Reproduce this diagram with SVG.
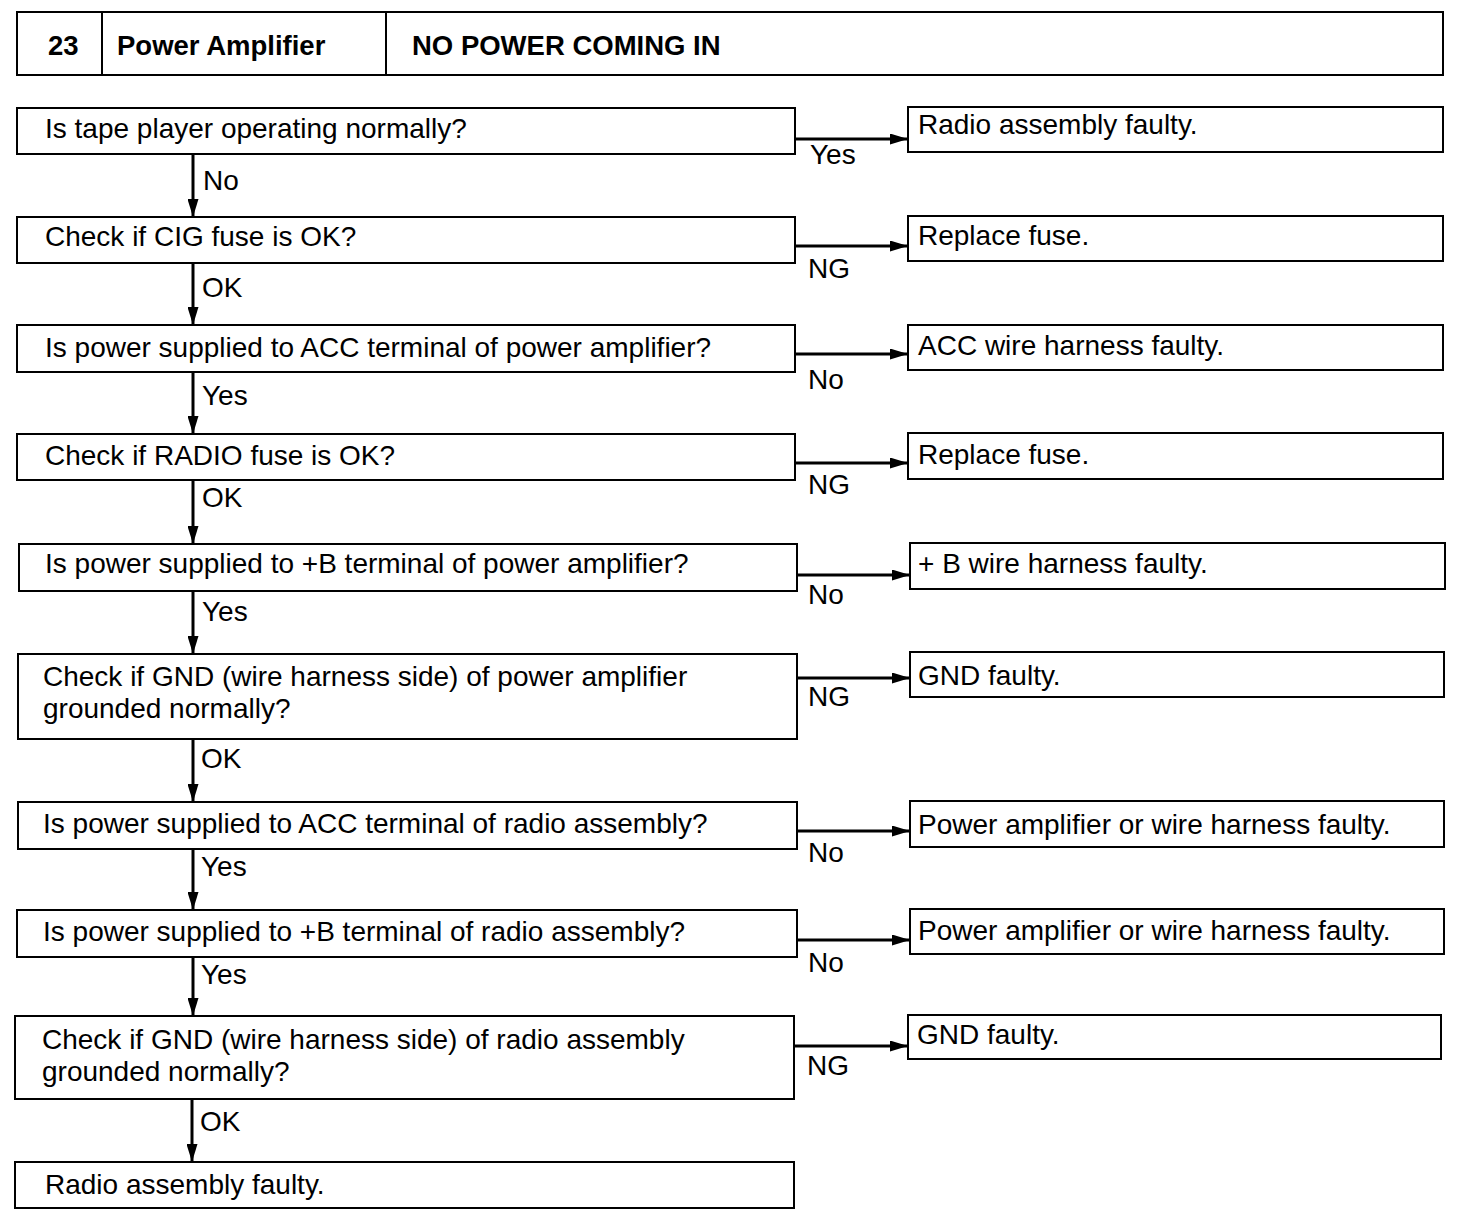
<svg xmlns="http://www.w3.org/2000/svg" width="1472" height="1222" viewBox="0 0 1472 1222">
<style>
.b{fill:#fff;stroke:#000;stroke-width:2}
.t{font-family:"Liberation Sans",Arial,sans-serif;font-size:28px;fill:#000}
.h{font-family:"Liberation Sans",Arial,sans-serif;font-size:27.5px;font-weight:bold;fill:#000}
.c{stroke:#000;stroke-width:3;fill:none}
</style>
<defs>
<marker id="ah" viewBox="0 0 18 11" refX="18" refY="5.5" markerWidth="18" markerHeight="11" markerUnits="userSpaceOnUse" orient="auto">
<path d="M0,0 L18,5.5 L0,11 Z" fill="#000"/>
</marker>
</defs>
<rect width="1472" height="1222" fill="#fff"/>
<g id="header">
<rect class="b" x="17" y="12" width="1426" height="63"/>
<line x1="102" y1="12" x2="102" y2="75" stroke="#000" stroke-width="2"/>
<line x1="386" y1="12" x2="386" y2="75" stroke="#000" stroke-width="2"/>
<text class="h" x="48" y="55">23</text>
<text class="h" x="117" y="55">Power Amplifier</text>
<text class="h" x="412" y="55">NO POWER COMING IN</text>
</g>
<g id="connectors">
<line class="c" x1="193" y1="154" x2="193" y2="217" marker-end="url(#ah)"/>
<line class="c" x1="193" y1="263" x2="193" y2="325" marker-end="url(#ah)"/>
<line class="c" x1="193" y1="372" x2="193" y2="434" marker-end="url(#ah)"/>
<line class="c" x1="193" y1="480" x2="193" y2="544" marker-end="url(#ah)"/>
<line class="c" x1="193" y1="591" x2="193" y2="654" marker-end="url(#ah)"/>
<line class="c" x1="193" y1="739" x2="193" y2="802" marker-end="url(#ah)"/>
<line class="c" x1="193" y1="849" x2="193" y2="910" marker-end="url(#ah)"/>
<line class="c" x1="193" y1="957" x2="193" y2="1016" marker-end="url(#ah)"/>
<line class="c" x1="192" y1="1099" x2="192" y2="1162" marker-end="url(#ah)"/>
<line class="c" x1="795" y1="139" x2="908" y2="139" marker-end="url(#ah)"/>
<line class="c" x1="795" y1="246" x2="908" y2="246" marker-end="url(#ah)"/>
<line class="c" x1="795" y1="354" x2="908" y2="354" marker-end="url(#ah)"/>
<line class="c" x1="795" y1="463" x2="908" y2="463" marker-end="url(#ah)"/>
<line class="c" x1="797" y1="575" x2="910" y2="575" marker-end="url(#ah)"/>
<line class="c" x1="797" y1="678" x2="910" y2="678" marker-end="url(#ah)"/>
<line class="c" x1="797" y1="831" x2="910" y2="831" marker-end="url(#ah)"/>
<line class="c" x1="797" y1="940" x2="910" y2="940" marker-end="url(#ah)"/>
<line class="c" x1="794" y1="1046" x2="908" y2="1046" marker-end="url(#ah)"/>
<text class="t" x="203" y="190">No</text>
<text class="t" x="202" y="297">OK</text>
<text class="t" x="202" y="405">Yes</text>
<text class="t" x="202" y="507">OK</text>
<text class="t" x="202" y="621">Yes</text>
<text class="t" x="201" y="768">OK</text>
<text class="t" x="201" y="876">Yes</text>
<text class="t" x="201" y="984">Yes</text>
<text class="t" x="200" y="1131">OK</text>
<text class="t" x="810" y="164">Yes</text>
<text class="t" x="808" y="278">NG</text>
<text class="t" x="808" y="389">No</text>
<text class="t" x="808" y="494">NG</text>
<text class="t" x="808" y="604">No</text>
<text class="t" x="808" y="706">NG</text>
<text class="t" x="808" y="862">No</text>
<text class="t" x="808" y="972">No</text>
<text class="t" x="807" y="1075">NG</text>
</g>
<g id="q1"><rect class="b" x="17" y="108" width="778" height="46"/><text class="t" x="45" y="138">Is tape player operating normally?</text></g>
<g id="q2"><rect class="b" x="17" y="217" width="778" height="46"/><text class="t" x="45" y="246">Check if CIG fuse is OK?</text></g>
<g id="q3"><rect class="b" x="17" y="325" width="778" height="47"/><text class="t" x="45" y="357">Is power supplied to ACC terminal of power amplifier?</text></g>
<g id="q4"><rect class="b" x="17" y="434" width="778" height="46"/><text class="t" x="45" y="465">Check if RADIO fuse is OK?</text></g>
<g id="q5"><rect class="b" x="19" y="544" width="778" height="47"/><text class="t" x="45" y="573">Is power supplied to +B terminal of power amplifier?</text></g>
<g id="q6"><rect class="b" x="18" y="654" width="779" height="85"/><text class="t" x="43" y="686">Check if GND (wire harness side) of power amplifier</text><text class="t" x="43" y="718">grounded normally?</text></g>
<g id="q7"><rect class="b" x="18" y="802" width="779" height="47"/><text class="t" x="43" y="833">Is power supplied to ACC terminal of radio assembly?</text></g>
<g id="q8"><rect class="b" x="17" y="910" width="780" height="47"/><text class="t" x="43" y="941">Is power supplied to +B terminal of radio assembly?</text></g>
<g id="q9"><rect class="b" x="15" y="1016" width="779" height="83"/><text class="t" x="42" y="1049">Check if GND (wire harness side) of radio assembly</text><text class="t" x="42" y="1081">grounded normally?</text></g>
<g id="q10"><rect class="b" x="15" y="1162" width="779" height="46"/><text class="t" x="45" y="1194">Radio assembly faulty.</text></g>
<g id="r1"><rect class="b" x="908" y="107" width="535" height="45"/><text class="t" x="918" y="134">Radio assembly faulty.</text></g>
<g id="r2"><rect class="b" x="908" y="216" width="535" height="45"/><text class="t" x="918" y="245">Replace fuse.</text></g>
<g id="r3"><rect class="b" x="908" y="325" width="535" height="45"/><text class="t" x="918" y="355">ACC wire harness faulty.</text></g>
<g id="r4"><rect class="b" x="908" y="433" width="535" height="46"/><text class="t" x="918" y="464">Replace fuse.</text></g>
<g id="r5"><rect class="b" x="910" y="543" width="535" height="46"/><text class="t" x="918" y="573">+ B wire harness faulty.</text></g>
<g id="r6"><rect class="b" x="910" y="652" width="534" height="45"/><text class="t" x="918" y="685">GND faulty.</text></g>
<g id="r7"><rect class="b" x="910" y="801" width="534" height="46"/><text class="t" x="918" y="834">Power amplifier or wire harness faulty.</text></g>
<g id="r8"><rect class="b" x="910" y="909" width="534" height="45"/><text class="t" x="918" y="940">Power amplifier or wire harness faulty.</text></g>
<g id="r9"><rect class="b" x="908" y="1015" width="533" height="44"/><text class="t" x="917" y="1044">GND faulty.</text></g>
</svg>
